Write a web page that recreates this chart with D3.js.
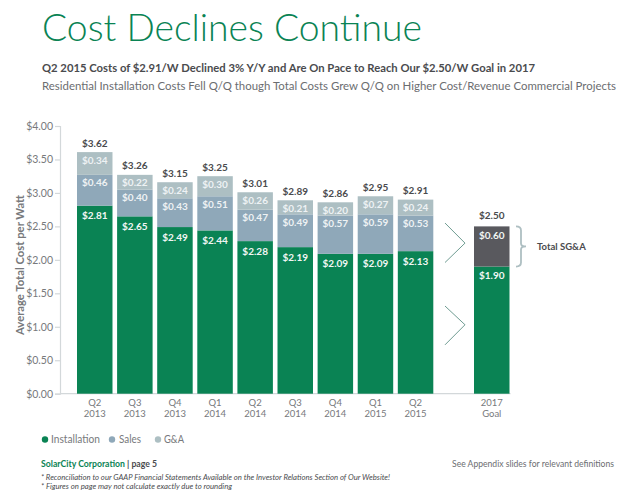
<!DOCTYPE html>
<html><head><meta charset="utf-8">
<script src="https://cdn.jsdelivr.net/npm/d3@7/dist/d3.min.js"></script>
<style>html,body{margin:0;padding:0;background:#fff}svg{display:block}text{font-family:Lato,sans-serif}</style>
</head><body><svg id="c" width="635" height="495"></svg>
<script>
const quarters=["Q2 2013","Q3 2013","Q4 2013","Q1 2014","Q2 2014","Q3 2014","Q4 2014","Q1 2015","Q2 2015"];
const installation=[2.81,2.65,2.49,2.44,2.28,2.19,2.09,2.09,2.13];
const sales=[0.46,0.40,0.43,0.51,0.47,0.49,0.57,0.59,0.53];
const gna=[0.34,0.22,0.24,0.30,0.26,0.21,0.20,0.27,0.24];
const totals=[3.62,3.26,3.15,3.25,3.01,2.89,2.86,2.95,2.91];
const goalCategory=["2017 Goal"];
const goalInstallation=[1.90];
const goalSGA=[0.60];
const goalTotal=[2.50];
const yTicks=[0,0.5,1,1.5,2,2.5,3,3.5,4];
const seriesNames=["Installation","Sales","G&A"];

const GREEN="#0a8354",BLUE="#8fa8b9",PALE="#adbfc3",DARK="#59595e",GREY="#77797c",INK="#4a4b4e";
const svg=d3.select("#c");
const fmt=d3.format("$.2f");
const y=d3.scaleLinear().domain([0,4]).range([393.7,126]);
const x=d3.scaleBand().domain(quarters).range([77,433.3]).paddingInner(0.115).paddingOuter(0);
const xGoal=d3.scaleBand().domain(goalCategory).range([474,509.5]);

function label(s,tx,ty,o={}){
  return svg.append("text").attr("x",tx).attr("y",ty).attr("dy","0.35em").text(s)
    .attr("font-size",o.size||10).attr("font-weight",o.weight||400).attr("fill",o.fill||GREY)
    .attr("text-anchor",o.anchor||"start").attr("font-style",o.style||"normal");
}
function fit(sel,w){sel.attr("textLength",w).attr("lengthAdjust","spacingAndGlyphs");return sel;}

// heading
fit(label("Cost Declines Continue",42,28,{size:38,weight:300,fill:GREEN}),380);
fit(label("Q2 2015 Costs of $2.91/W Declined 3% Y/Y and Are On Pace to Reach Our $2.50/W Goal in 2017",42,68,{size:11.5,weight:700,fill:INK}),493);
fit(label("Residential Installation Costs Fell Q/Q though Total Costs Grew Q/Q on Higher Cost/Revenue Commercial Projects",42,86,{size:11.5,fill:"#6b6d70"}),574);

// axes
const ax=svg.append("g").attr("transform","translate(60,0)")
  .call(d3.axisLeft(y).tickValues(yTicks).tickFormat(fmt).tickSize(5).tickPadding(2));
ax.selectAll("path,line").attr("stroke","#d3d8da").attr("stroke-width",1.2);
ax.selectAll("text").attr("fill",GREY).attr("font-size",10.5).attr("font-family","Lato,sans-serif");
svg.append("line").attr("x1",60).attr("x2",xGoal.range()[1]+1).attr("y1",y(0)).attr("y2",y(0)).attr("stroke","#d3d8da").attr("stroke-width",1.2);
svg.append("text").attr("transform","translate(20,265) rotate(-90)").attr("text-anchor","middle").attr("dy","0.35em")
  .attr("textLength",140).attr("lengthAdjust","spacingAndGlyphs")
  .attr("font-size",10.5).attr("font-weight",700).attr("fill",GREY).text("Average Total Cost per Watt");

// stacks
const rows=quarters.map((q,i)=>({q,Installation:installation[i],Sales:sales[i],"G&A":gna[i]}));
const layers=d3.stack().keys(seriesNames)(rows);
const colors=d3.scaleOrdinal().domain(seriesNames).range([GREEN,BLUE,PALE]);
layers.forEach(layer=>{
  svg.append("g").selectAll("rect").data(layer).join("rect")
    .attr("x",d=>x(d.data.q)).attr("width",x.bandwidth())
    .attr("y",d=>y(d[1])).attr("height",d=>y(d[0])-y(d[1]))
    .attr("fill",colors(layer.key));
  svg.append("g").selectAll("text").data(layer).join("text")
    .attr("x",d=>x(d.data.q)+x.bandwidth()/2)
    .attr("y",d=>y(d[1])+(layer.key==="Installation"?10:8))
    .attr("dy","0.35em").attr("text-anchor","middle").attr("font-size",10).attr("font-weight",700)
    .attr("fill",layer.key==="Installation"?"#f2f7f4":"#eef2f4")
    .text(d=>fmt(d.data[layer.key]));
});
svg.append("g").selectAll("text").data(layers[2]).join("text")
  .attr("x",d=>x(d.data.q)+x.bandwidth()/2).attr("y",d=>y(d[1])-9).attr("dy","0.35em")
  .attr("text-anchor","middle").attr("font-size",10).attr("font-weight",700).attr("fill",INK)
  .text((d,i)=>fmt(totals[i]));

// goal bar
const gx=xGoal(goalCategory[0]),gw=xGoal.bandwidth(),gc=gx+gw/2;
svg.append("rect").attr("x",gx).attr("width",gw).attr("y",y(goalInstallation[0])).attr("height",y(0)-y(goalInstallation[0])).attr("fill",GREEN);
svg.append("rect").attr("x",gx).attr("width",gw).attr("y",y(goalTotal[0])).attr("height",y(goalInstallation[0])-y(goalTotal[0])).attr("fill",DARK);
label(fmt(goalInstallation[0]),gc,y(goalInstallation[0])+9,{size:10,weight:700,fill:"#f2f7f4",anchor:"middle"});
label(fmt(goalSGA[0]),gc,y(goalTotal[0])+9,{size:10,weight:700,fill:"#f2f7f4",anchor:"middle"});
label(fmt(goalTotal[0]),gc,y(goalTotal[0])-11,{size:10,weight:700,fill:INK,anchor:"middle"});

// x labels
quarters.concat(goalCategory).forEach((q,i)=>{
  const cx=i<quarters.length?x(q)+x.bandwidth()/2:gc;
  const t=q.split(" ");
  label(t[0],cx,403,{size:9.5,anchor:"middle"});
  label(t[1],cx,414,{size:9.5,anchor:"middle"});
});

// chevrons
const chev=d3.line().x(d=>d[0]).y(d=>y(d[1]));
[[2.55,2.25,1.96],[1.31,1.03,0.73]].forEach(v=>{
  svg.append("path").attr("d",chev([[445,v[0]],[465,v[1]],[445,v[2]]])).attr("fill","none").attr("stroke","#6f9c92").attr("stroke-width",1);
});
// brace for SG&A
const bt=y(goalTotal[0]),bb=y(goalInstallation[0]),bm=(bt+bb)/2;
svg.append("path").attr("d",`M516,${bt}Q521,${bt} 521,${bt+4}L521,${bm-3}Q521,${bm} 526,${bm}Q521,${bm} 521,${bm+3}L521,${bb-4}Q521,${bb} 516,${bb}`)
  .attr("fill","none").attr("stroke","#aebfc2").attr("stroke-width",1.8);
label("Total SG&A",537,bm+.5,{size:9.5,weight:700,fill:INK});

// legend
const legendX=[45,112,158],legendText=[51,119,164],legendW=[49,22,20];
seriesNames.forEach((n,i)=>{
  svg.append("circle").attr("cx",legendX[i]).attr("cy",439.5).attr("r",3.2).attr("fill",colors(n));
  fit(label(n,legendText[i],439.5,{size:10.5}),legendW[i]);
});

// footer
const f=label("",41,464,{size:8.5,weight:700,fill:GREEN}).attr("textLength",116).attr("lengthAdjust","spacingAndGlyphs");
f.append("tspan").text("SolarCity Corporation");
f.append("tspan").attr("fill",INK).text(" | page 5");
fit(label("See Appendix slides for relevant definitions",452,464,{size:8.5,fill:"#6b6d70"}),162);
fit(label("* Reconciliation to our GAAP Financial Statements Available on the Investor Relations Section of Our Website!",41,477,{size:7.5,style:"italic",fill:INK}),349);
fit(label("* Figures on page may not calculate exactly due to rounding",41,486.5,{size:7.5,style:"italic",fill:INK}),191);
</script></body></html>
